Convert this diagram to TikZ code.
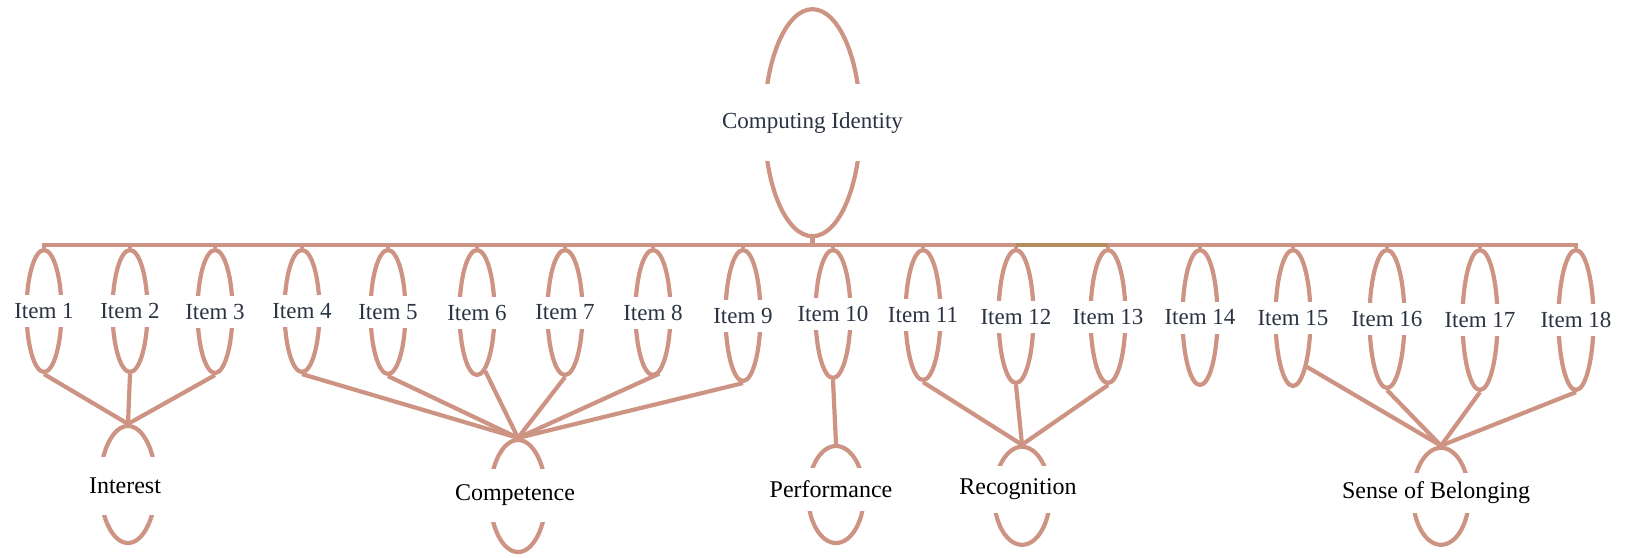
\documentclass[tikz,border=0pt]{standalone}
\usepackage{fontspec}
\setmainfont{Liberation Serif}
\usetikzlibrary{shapes.geometric}
\definecolor{edgecol}{RGB}{205,148,131}
\definecolor{inkcol}{RGB}{42,51,66}
\definecolor{olivecol}{RGB}{178,140,92}
\tikzstyle{link} = [edgecol, line width=4.2pt]
\tikzstyle{itemnode} = [draw=edgecol, ellipse, line width=4.2pt, minimum width=35pt, inner sep=0pt]
\tikzstyle{latent} = [draw=edgecol, ellipse, line width=4.2pt, minimum width=56pt, inner sep=0pt]
\tikzstyle{itemtext} = [fill=white, text=inkcol, font=\fontsize{23}{27}\selectfont, inner xsep=1pt, inner ysep=0pt, minimum height=32pt]
\tikzstyle{latenttext} = [fill=white, text=black, font=\fontsize{24}{28}\selectfont, inner xsep=1pt, inner ysep=0pt]

\begin{document}
\begin{tikzpicture}[x=1pt, y=-1pt]
		\useasboundingbox (0,0) rectangle (1625,557);
		\node [latent, minimum width=96pt, minimum height=227pt] (ci) at (812.5,122.7) {};
		\coordinate (hub) at ([yshift=-6.5pt]ci.south);
		\foreach \n/\x/\b in {1/44/374, 2/130/374, 3/215/375, 4/302/374, 5/388/376, 6/477/377, 7/565/377, 8/653/377, 9/743/383, 10/833/380, 11/923/382, 12/1016/385, 13/1108/385, 14/1200/387, 15/1293/388, 16/1387/390, 17/1480/392, 18/1576/392}
			\node [itemnode, minimum height={(\b-252)*1pt}] (i\n) at (\x,{(248+\b)/2}) {};

		\node [latent, minimum height=117pt] (interest) at (128,484.5) {};
		\node [latent, minimum height=112pt] (competence) at (518,496) {};
		\node [latent, minimum height=97pt] (performance) at (836,494.5) {};
		\node [latent, minimum height=98pt] (recognition) at (1022,495.8) {};
		\node [latent, minimum height=97pt] (belonging) at (1441,496.3) {};

		\draw [link] (ci.south) -- (hub);
		\foreach \n in {1,...,18}
			\draw [link] (hub) -| (i\n.north);
		\draw [link, olivecol] (hub -| i12.north) -- (hub -| i13.north);

		\foreach \n in {1,2,3}
			\draw [link] (i\n.south) -- (interest.north);
		\foreach \a in {4,5,7,9}
			\draw [link] (i\a.south) -- (competence.north);
		\draw [link] (i6.-82) -- (competence.north);
		\draw [link] (i8.-84) -- (competence.north);
		\draw [link] (i10.south) -- (performance.north);
		\foreach \n in {11,12,13}
			\draw [link] (i\n.south) -- (recognition.north);
		\draw [link] (i15.-74) -- (belonging.north);
		\foreach \n in {16,17,18}
			\draw [link] (i\n.south) -- (belonging.north);

		\node [itemtext, text=inkcol, minimum height=77pt] (citext) at (ci) {Computing Identity};
		\foreach \n in {1,...,18}
			\node [itemtext] (t\n) at (i\n) {Item \n};
		\node [latenttext, minimum height=58pt] (interesttext) at (125,486) {Interest};
		\node [latenttext, minimum height=53pt] (competencetext) at (515,495) {Competence};
		\node [latenttext, minimum height=43pt] (performancetext) at (831,489) {Performance};
		\node [latenttext, minimum height=47pt] (recognitiontext) at (1018,489) {Recognition};
		\node [latenttext, minimum height=40pt] (belongingtext) at (1436,493) {Sense of Belonging};
	\end{tikzpicture}
\end{document}
